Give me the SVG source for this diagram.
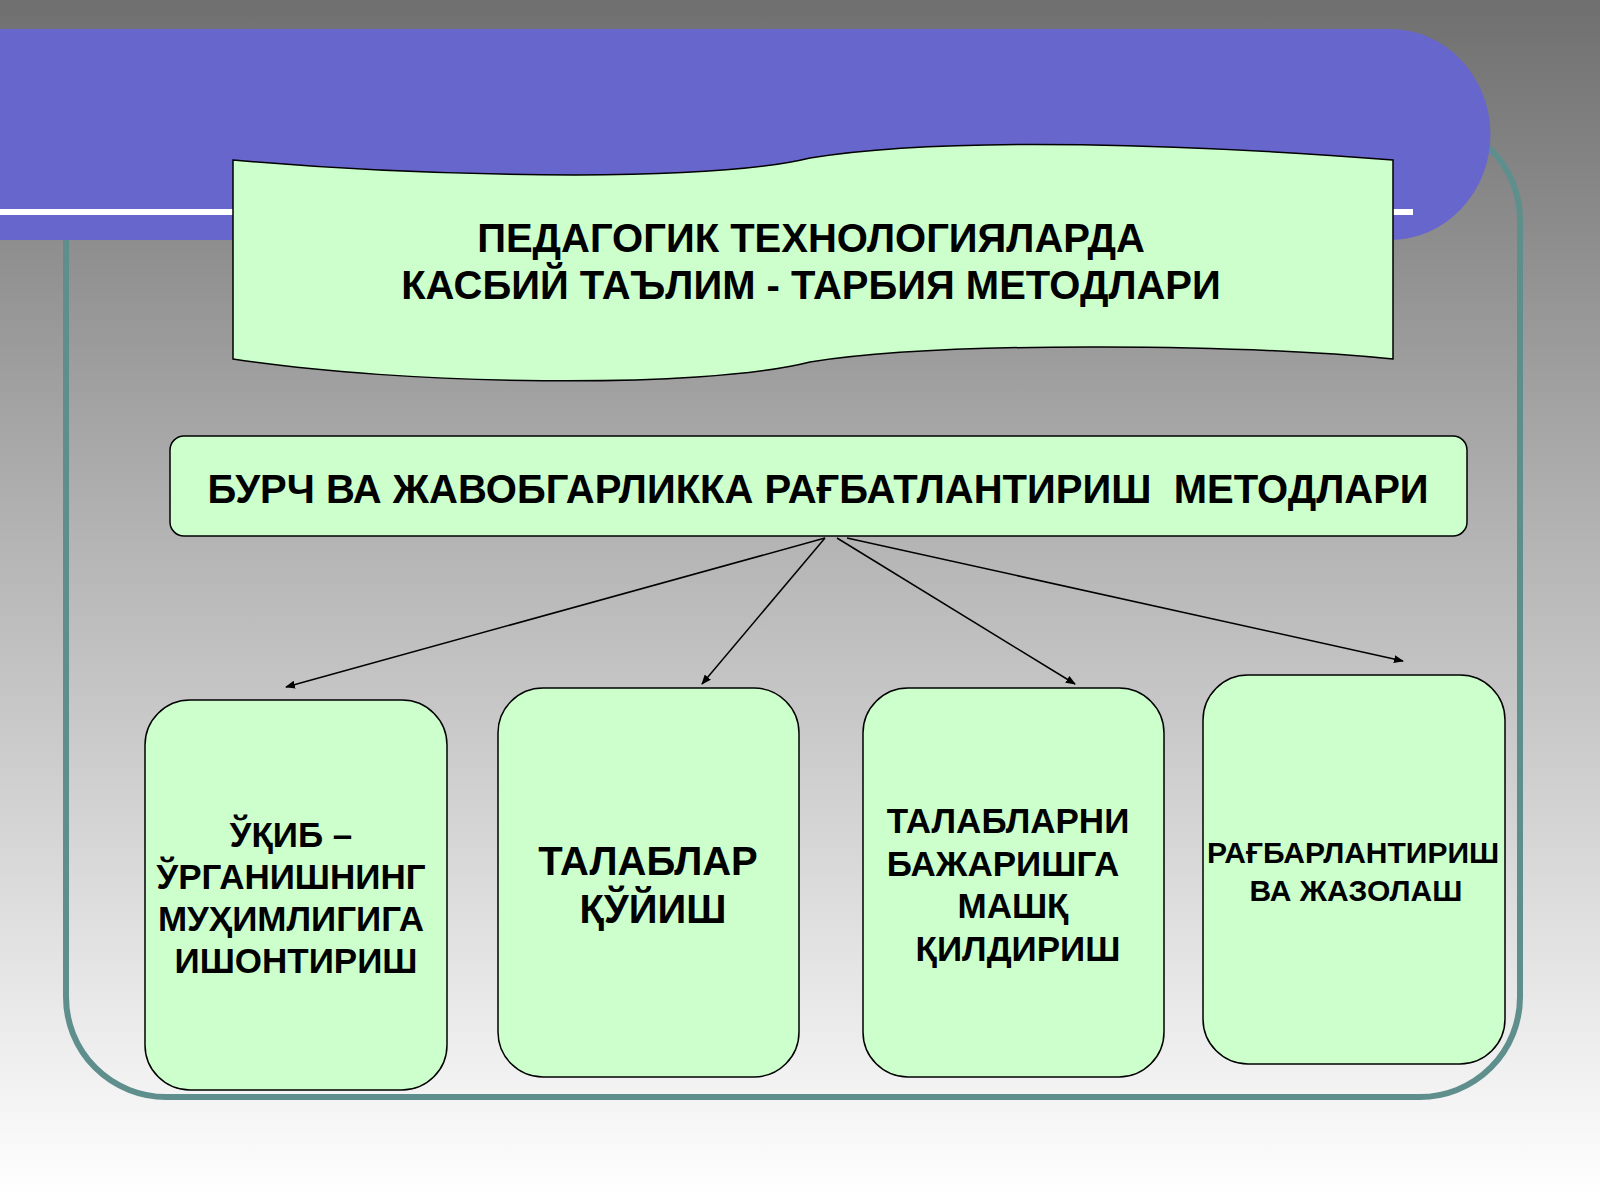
<svg xmlns="http://www.w3.org/2000/svg" width="1600" height="1200" viewBox="0 0 1600 1200">
<defs>
<linearGradient id="bg" x1="0" y1="0" x2="0" y2="1"><stop offset="0" stop-color="#6f6f6f"/><stop offset="0.45" stop-color="#b4b4b4"/><stop offset="1" stop-color="#ffffff"/></linearGradient>
<marker id="ah" markerWidth="10" markerHeight="8" refX="9" refY="4" orient="auto" markerUnits="userSpaceOnUse"><path d="M0,0 L10,4 L0,8 Z" fill="#000"/></marker>
<style>
.box{fill:#ccffcc;stroke:#000;stroke-width:1.5}
.t{font-family:"Liberation Sans",Arial,sans-serif;font-weight:bold;fill:#000;text-anchor:middle}
.c{stroke:#000;stroke-width:1.5;fill:none;marker-end:url(#ah)}
</style>
</defs>
<rect width="1600" height="1200" fill="url(#bg)"/>
<rect x="66" y="120" width="1454" height="977" rx="100" fill="none" stroke="#5f8f8c" stroke-width="6"/>
<path d="M0,29 H1390 A100,105 0 0 1 1390,240 H0 Z" fill="#6666cc"/>
<line x1="0" y1="212" x2="1413" y2="212" stroke="#fff" stroke-width="6"/>
<g id="title">
<path class="box" d="M233,160 C400,175 700,185 810,158 C950,135 1200,145 1393,160 V359 C1250,345 950,340 810,362 C700,390 400,385 233,359 Z"/>
<text class="t" x="811" y="252" font-size="40">ПЕДАГОГИК ТЕХНОЛОГИЯЛАРДА</text>
<text class="t" x="811" y="299" font-size="40">КАСБИЙ ТАЪЛИМ - ТАРБИЯ МЕТОДЛАРИ</text>
</g>
<g id="main">
<rect class="box" x="170" y="436" width="1297" height="100" rx="14"/>
<text class="t" x="818" y="503" font-size="40" xml:space="preserve">БУРЧ ВА ЖАВОБГАРЛИККА РАҒБАТЛАНТИРИШ  МЕТОДЛАРИ</text>
</g>
<g id="connectors">
<line class="c" x1="825" y1="538" x2="286" y2="687"/>
<line class="c" x1="825" y1="538" x2="702" y2="684"/>
<line class="c" x1="837" y1="538" x2="1075" y2="684"/>
<line class="c" x1="847" y1="538" x2="1403" y2="661"/>
</g>
<g id="n1">
<rect class="box" x="145" y="700" width="302" height="390" rx="45"/>
<text class="t" font-size="35"><tspan x="291" y="847">ЎҚИБ –</tspan><tspan x="291" y="889">ЎРГАНИШНИНГ</tspan><tspan x="291" y="931">МУҲИМЛИГИГА</tspan><tspan x="296" y="973">ИШОНТИРИШ</tspan></text>
</g>
<g id="n2">
<rect class="box" x="498" y="688" width="301" height="389" rx="45"/>
<text class="t" font-size="40"><tspan x="648" y="875">ТАЛАБЛАР</tspan><tspan x="653" y="923">ҚЎЙИШ</tspan></text>
</g>
<g id="n3">
<rect class="box" x="863" y="688" width="301" height="389" rx="45"/>
<text class="t" font-size="35"><tspan x="1008" y="833">ТАЛАБЛАРНИ</tspan><tspan x="1003" y="876">БАЖАРИШГА</tspan><tspan x="1013" y="918">МАШҚ</tspan><tspan x="1018" y="961">ҚИЛДИРИШ</tspan></text>
</g>
<g id="n4">
<rect class="box" x="1203" y="675" width="302" height="389" rx="45"/>
<text class="t" font-size="30"><tspan x="1353" y="863">РАҒБАРЛАНТИРИШ</tspan><tspan x="1356" y="901">ВА ЖАЗОЛАШ</tspan></text>
</g>
</svg>
